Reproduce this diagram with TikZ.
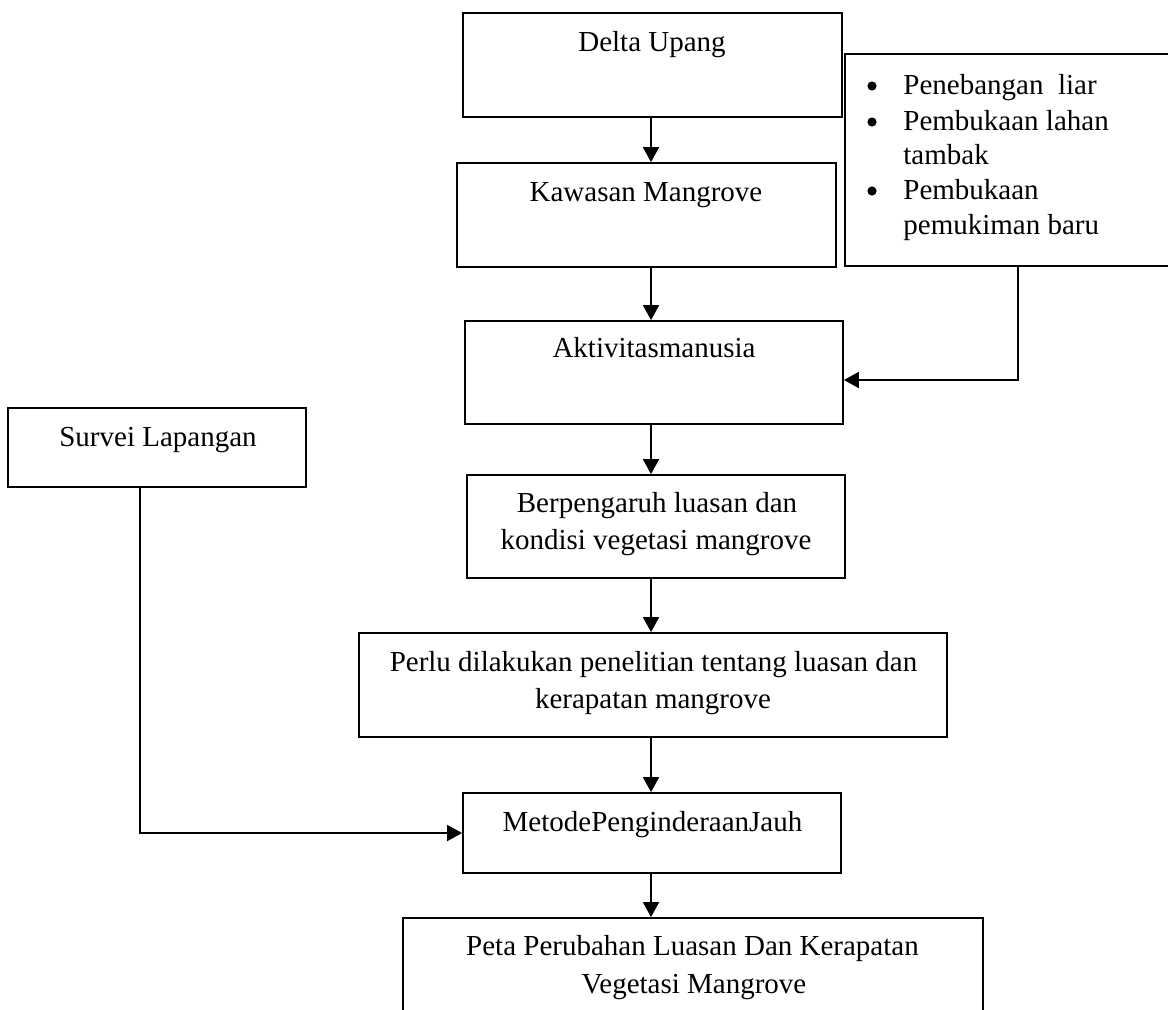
\documentclass[tikz,border=0pt]{standalone}
\usepackage{fontspec}
\setmainfont{Liberation Serif}
\usetikzlibrary{arrows.meta}
\begin{document}
\begin{tikzpicture}[x=0.5pt,y=-0.5pt,
  box/.style={draw,line width=0.9pt,inner sep=0pt},
  txt/.style={font=\fontsize{14.5}{19}\selectfont,inner sep=0pt,anchor=base},
  arr/.style={line width=0.9pt,-{Triangle[length=7.5pt,width=8pt]}},
  dot/.style={circle,fill,inner sep=0pt,minimum size=4.6pt}]
\clip (0,0) rectangle (1168,1009);
\fill[white] (0,0) rectangle (1168,1009);
% boxes
\node[box,minimum width=189.5pt,minimum height=52pt] (delta) at (652.5,65) {};
\node[box,minimum width=189.5pt,minimum height=52pt] (kawasan) at (646.5,215) {};
\node[box,minimum width=167.5pt,minimum height=106pt] (bullets) at (1012.5,160) {};
\node[box,minimum width=189pt,minimum height=51.5pt] (aktivitas) at (654,372.5) {};
\node[box,minimum width=149pt,minimum height=39.5pt] (survei) at (157,447.5) {};
\node[box,minimum width=189pt,minimum height=51.5pt] (berp) at (656,526.5) {};
\node[box,minimum width=294pt,minimum height=52pt] (perlu) at (653,685) {};
\node[box,minimum width=189pt,minimum height=40pt] (metode) at (652,833) {};
\node[box,minimum width=290pt,minimum height=56pt] (peta) at (693,974) {};
% texts
\node[txt] (deltat) at (652,51) {Delta Upang};
\node[txt] (kawasant) at (646,201) {Kawasan Mangrove};
\node[txt] (aktivitast) at (654,357) {Aktivitasmanusia};
\node[txt] (surveit) at (158,446) {Survei Lapangan};
\node[txt] (berp1) at (657,512) {Berpengaruh luasan dan};
\node[txt] (berp2) at (656,549) {kondisi vegetasi mangrove};
\node[txt] (perlu1) at (653.5,671) {Perlu dilakukan penelitian tentang luasan dan};
\node[txt] (perlu2) at (653,708) {kerapatan mangrove};
\node[txt] (metodet) at (652.5,831) {MetodePenginderaanJauh};
\node[txt] (peta1) at (692.5,955) {Peta Perubahan Luasan Dan Kerapatan};
\node[txt] (peta2) at (694,993) {Vegetasi Mangrove};
% bullet list
\node[dot] (d1) at (872,86) {};
\node[dot] (d2) at (872,122) {};
\node[dot] (d3) at (872,191) {};
\node[txt,anchor=base west] (b1) at (903,94) {Penebangan\ \ liar};
\node[txt,anchor=base west] (b2) at (903,130) {Pembukaan lahan};
\node[txt,anchor=base west] (b3) at (903,164) {tambak};
\node[txt,anchor=base west] (b4) at (903,199) {Pembukaan};
\node[txt,anchor=base west] (b5) at (903,234) {pemukiman baru};
% connectors
\coordinate (ax) at (651,0);
\draw[arr] (delta.south -| ax) -- (kawasan.north -| ax);
\draw[arr] (kawasan.south -| ax) -- (aktivitas.north -| ax);
\draw[arr] (aktivitas.south -| ax) -- (berp.north -| ax);
\draw[arr] (berp.south -| ax) -- (perlu.north -| ax);
\draw[arr] (perlu.south -| ax) -- (metode.north -| ax);
\draw[arr] (metode.south -| ax) -- (peta.north -| ax);
\coordinate (bl) at (1018,0);
\coordinate (by) at (0,380);
\draw[arr] (bullets.south -| bl) |- (aktivitas.east |- by);
\coordinate (sl) at (140,0);
\draw[arr] (survei.south -| sl) |- (metode.west);
\end{tikzpicture}
\end{document}
